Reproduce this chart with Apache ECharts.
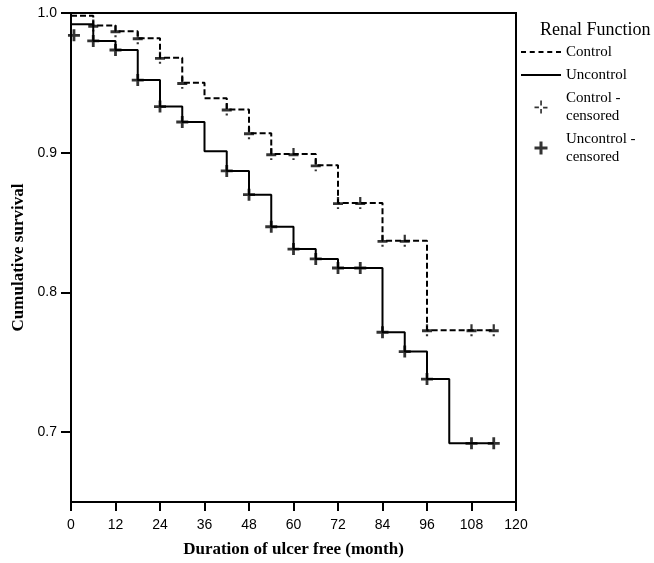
<!DOCTYPE html>
<html>
<head>
<meta charset="utf-8">
<script src="https://cdn.jsdelivr.net/npm/echarts@6/dist/echarts.min.js"></script>
<style>
  html, body { margin: 0; padding: 0; background: #fff; }
  #main { width: 654px; height: 563px; }
</style>
</head>
<body>
<div id="main"></div>
<script>
// step points of the two survival curves (month, cumulative survival)
const controlTimes = [0, 6, 12, 18, 24, 30, 36, 42, 48, 54, 66, 72, 84, 96, 114]
const controlSurv = [0.998, 0.991, 0.987, 0.982, 0.968, 0.950, 0.939, 0.931, 0.914, 0.899, 0.891, 0.864, 0.837, 0.773, 0.773]

const uncontrolTimes = [0, 6, 12, 18, 24, 30, 36, 42, 48, 54, 60, 66, 72, 84, 90, 96, 102, 114]
const uncontrolSurv = [0.992, 0.980, 0.9735, 0.952, 0.933, 0.922, 0.901, 0.887, 0.870, 0.847, 0.831, 0.824, 0.8175, 0.7715, 0.7577, 0.738, 0.692, 0.692]

// censored marks
const controlCensT = [6, 12, 18, 24, 30, 42, 48, 54, 60, 66, 72, 78, 84, 90, 96, 108, 114]
const controlCensS = [0.991, 0.987, 0.982, 0.968, 0.950, 0.931, 0.914, 0.899, 0.899, 0.891, 0.864, 0.864, 0.837, 0.837, 0.773, 0.773, 0.773]

const uncontrolCensT = [0.8, 6, 12, 18, 24, 30, 42, 48, 54, 60, 66, 72, 78, 84, 90, 96, 108, 114]
const uncontrolCensS = [0.984, 0.980, 0.9735, 0.952, 0.933, 0.922, 0.887, 0.870, 0.847, 0.831, 0.824, 0.8175, 0.8175, 0.7715, 0.7577, 0.738, 0.692, 0.692]

const yTicks = [0.7, 0.8, 0.9, 1.0]

const serif = "'Liberation Serif', 'Times New Roman', serif"
const sans = "'Liberation Sans', Arial, sans-serif"

// symbols
const plusPath = 'path://M0,4.6h12v2.8h-12z M4.6,0h2.8v12h-2.8z'
const ctrlMarkPath = 'path://M0.5,5h9v2.8h-9z M4,0h2v5h-2z M4,9.8h2v1.8h-2z'
const ctrlLegendPath = 'path://M0,4.6h3.4v1.3h-3.4z M6.6,4.9h3.4v1.3h-3.4z M4.4,0h1.3v3.8h-1.3z M4.4,6.6h1.3v3.4h-1.3z'
// legend line icons (no marker)
const solidIcon = 'path://M0,0h40v1.8h-40z'
const dashIcon = 'path://M0,0h5v1.8h-5z M8.75,0h5v1.8h-5z M17.5,0h5v1.8h-5z M26.25,0h5v1.8h-5z M35,0h5v1.8h-5z'

function zip(a, b) {
    return a.map((v, i) => [v, b[i]])
}

var myChart = echarts.init(document.getElementById('main'))

var option = {
    animation: false,
    title: {
        text: 'Renal Function',
        left: 540,
        top: 21,
        padding: 0,
        textStyle: { fontFamily: serif, fontSize: 18, fontWeight: 'normal', color: '#000' }
    },
    legend: {
        orient: 'vertical',
        left: 521,
        top: 43,
        padding: 0,
        itemWidth: 40,
        itemHeight: 13,
        itemGap: 5,
        textStyle: { fontFamily: serif, fontSize: 15, color: '#000', lineHeight: 18 },
        data: [
            { name: 'Control', icon: dashIcon },
            { name: 'Uncontrol', icon: solidIcon },
            { name: 'Control -\ncensored', icon: ctrlLegendPath },
            { name: 'Uncontrol -\ncensored', icon: plusPath }
        ]
    },
    grid: {
        left: 71,
        right: 138,
        top: 13,
        bottom: 61,
        show: true,
        borderColor: '#000',
        borderWidth: 2,
        backgroundColor: 'transparent'
    },
    xAxis: {
        type: 'value',
        min: 0,
        max: 120,
        interval: 12,
        name: 'Duration of ulcer free (month)',
        nameLocation: 'middle',
        nameGap: 39,
        nameTextStyle: { fontFamily: serif, fontSize: 17, fontWeight: 'bold', color: '#000' },
        axisLine: { lineStyle: { color: '#000', width: 2 } },
        axisTick: { length: 9, lineStyle: { color: '#000', width: 2 } },
        axisLabel: { margin: 16, fontFamily: sans, fontSize: 14, color: '#000' },
        splitLine: { show: false }
    },
    yAxis: {
        type: 'value',
        min: 0.65,
        max: 1.0,
        name: 'Cumulative survival',
        nameLocation: 'middle',
        nameGap: 40,
        nameTextStyle: { fontFamily: serif, fontSize: 17, fontWeight: 'bold', color: '#000' },
        axisLine: { show: true, lineStyle: { color: '#000', width: 2 } },
        axisTick: { show: true, length: 10, customValues: yTicks, lineStyle: { color: '#000', width: 2 } },
        axisLabel: {
            margin: 14, fontFamily: sans, fontSize: 14, color: '#000',
            customValues: yTicks,
            formatter: v => v.toFixed(1)
        },
        splitLine: { show: false }
    },
    series: [
        {
            name: 'Control',
            type: 'line',
            step: 'end',
            symbol: 'none',
            data: zip(controlTimes, controlSurv),
            lineStyle: { color: '#000', width: 2, type: [6, 3] },
            itemStyle: { color: '#000' },
            z: 2
        },
        {
            name: 'Uncontrol',
            type: 'line',
            step: 'end',
            symbol: 'none',
            data: zip(uncontrolTimes, uncontrolSurv),
            lineStyle: { color: '#000', width: 2 },
            itemStyle: { color: '#000' },
            z: 2
        },
        {
            name: 'Control -\ncensored',
            type: 'scatter',
            symbol: ctrlMarkPath,
            symbolSize: [10, 12],
            data: zip(controlCensT, controlCensS),
            itemStyle: { color: '#000' },
            z: 3
        },
        {
            name: 'Uncontrol -\ncensored',
            type: 'scatter',
            symbol: plusPath,
            symbolSize: 12,
            data: zip(uncontrolCensT, uncontrolCensS),
            itemStyle: { color: '#000' },
            z: 3
        }
    ]
}

myChart.setOption(option)
</script>
</body>
</html>
